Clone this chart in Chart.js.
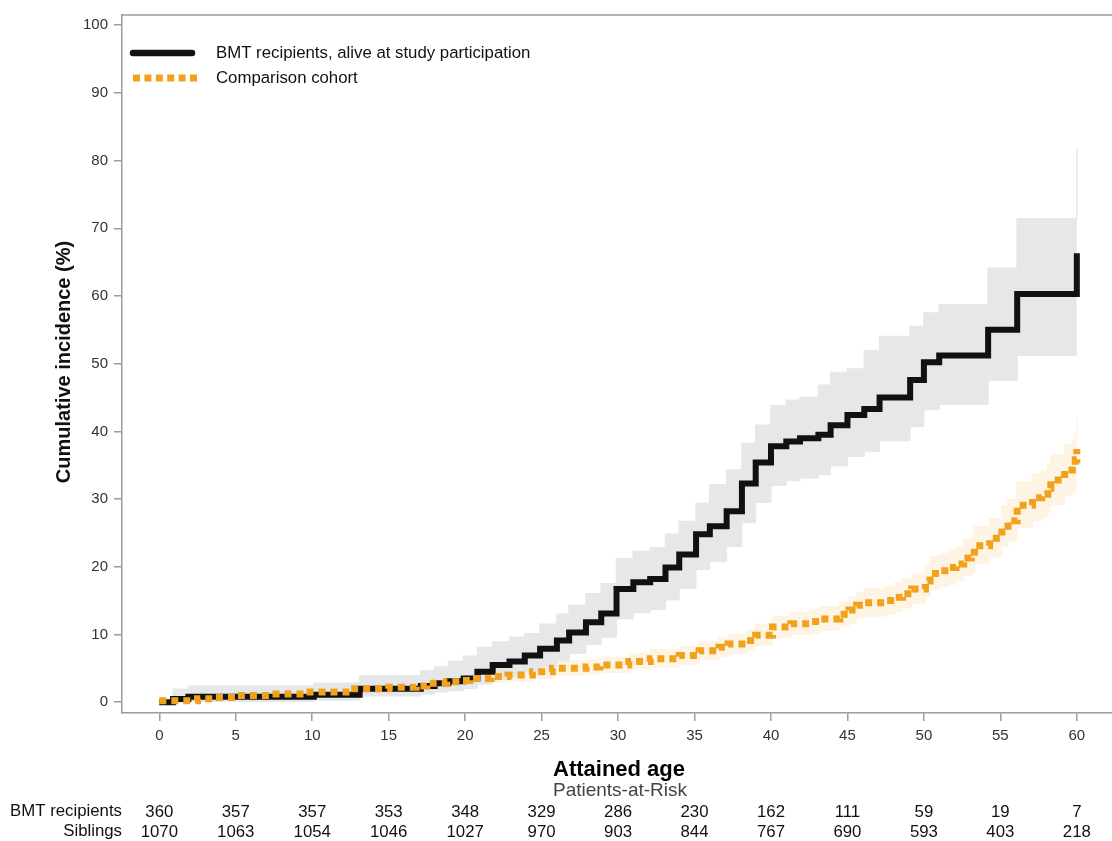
<!DOCTYPE html>
<html>
<head>
<meta charset="utf-8">
<script src="https://cdn.jsdelivr.net/npm/chart.js@4.4.1/dist/chart.umd.min.js"></script>
<style>
  html, body { margin: 0; padding: 0; background: #fff; }
  #wrap { width: 1112px; height: 841px; position: relative; }
</style>
</head>
<body>
<div id="wrap"><canvas id="c" width="1112" height="841"></canvas></div>
<script>
// BMT recipients, alive at study participation: cumulative incidence (%) by attained age
const bmtAge  = [0, 0.9, 1.9, 10.1, 13.1, 17.1, 18, 18.9, 19.9, 20.8, 21.8, 22.9, 23.9, 24.9, 26, 26.8, 27.9, 28.9, 29.9, 31, 32.1, 33.1, 34, 35.1, 36, 37.1, 38.1, 39, 40, 41, 41.9, 43.1, 43.9, 45, 46.1, 47.1, 49.1, 50, 51, 54.2, 56.1, 60];
const bmtInc  = [0, 0.45, 0.8, 1.1, 2.0, 2.4, 2.8, 3.1, 3.5, 4.5, 5.5, 6.0, 6.9, 7.9, 9.1, 10.3, 11.8, 13.1, 16.7, 17.7, 18.2, 19.9, 21.8, 24.8, 26.0, 28.2, 32.3, 35.4, 37.8, 38.5, 39.0, 39.5, 40.9, 42.4, 43.3, 45.0, 47.6, 50.2, 51.2, 55.0, 60.3, 66.3];
const bmtLow  = [0, 0, 0.1, 0.3, 0.9, 1.2, 1.5, 1.7, 2.0, 2.7, 3.4, 3.8, 4.5, 5.2, 6.1, 7.2, 8.5, 9.6, 12.3, 13.2, 13.7, 15.1, 16.8, 19.6, 20.8, 23.0, 26.5, 29.5, 32.0, 32.7, 33.1, 33.6, 34.9, 36.3, 37.0, 38.6, 40.7, 43.2, 44.0, 47.5, 51.2, 51.2];
const bmtHigh = [0, 1.9, 2.4, 2.8, 3.9, 4.6, 5.2, 6.0, 6.8, 8.1, 8.9, 9.6, 10.1, 11.5, 13.0, 14.3, 16.0, 17.5, 21.2, 22.3, 22.8, 24.8, 26.7, 29.4, 32.1, 34.3, 38.2, 40.9, 43.8, 44.6, 45.0, 46.8, 48.7, 49.2, 51.9, 54.0, 55.5, 57.5, 58.7, 64.1, 71.4, 81.7];

// Comparison cohort (siblings)
const cmpAge  = [0, 2.5, 3.7, 5.1, 7.4, 9.5, 12.5, 15.0, 16.8, 17.5, 18.8, 19.7, 20.3, 21.7, 22.8, 24.4, 25.7, 27.9, 28.8, 30.7, 32.1, 34.0, 35.3, 36.6, 37.2, 38.4, 39.0, 40.1, 41.3, 42.6, 43.2, 44.5, 45.1, 45.6, 46.1, 47.5, 48.1, 48.6, 49.2, 50.1, 50.4, 51.0, 51.6, 52.1, 52.6, 53.1, 53.3, 54.3, 55.1, 55.5, 56.1, 57.1, 57.7, 58.1, 58.3, 59.2, 59.7, 59.9, 60.0];
const cmpInc  = [0.2, 0.5, 0.7, 1.0, 1.2, 1.5, 2.0, 2.2, 2.4, 2.8, 3.0, 3.2, 3.5, 3.8, 4.0, 4.5, 5.0, 5.2, 5.5, 6.0, 6.4, 6.9, 7.6, 8.1, 8.6, 9.1, 9.9, 11.1, 11.6, 11.9, 12.3, 13.0, 13.6, 14.3, 14.7, 15.0, 15.5, 16.0, 16.7, 17.9, 19.0, 19.4, 19.9, 20.4, 21.3, 21.6, 23.1, 24.2, 26.0, 26.8, 29.1, 30.2, 30.7, 31.6, 32.8, 34.3, 34.8, 35.8, 37.4];
const cmpLow  = [0, 0.1, 0.2, 0.4, 0.6, 0.8, 1.2, 1.4, 1.6, 1.9, 2.1, 2.3, 2.6, 2.9, 3.1, 3.5, 4.0, 4.2, 4.4, 4.9, 5.2, 5.6, 6.3, 6.7, 7.2, 7.6, 8.4, 9.5, 10.0, 10.2, 10.6, 11.2, 11.7, 12.4, 12.7, 13.0, 13.4, 13.9, 14.5, 15.6, 16.6, 17.0, 17.4, 17.9, 18.7, 19.0, 20.4, 21.4, 23.0, 23.8, 25.8, 26.8, 27.3, 28.1, 29.2, 30.6, 31.1, 32.0, 33.0];
const cmpHigh = [0.5, 0.9, 1.2, 1.6, 1.8, 2.2, 2.8, 3.0, 3.2, 3.7, 3.9, 4.1, 4.4, 4.8, 5.0, 5.5, 6.1, 6.3, 6.6, 7.2, 7.7, 8.2, 8.9, 9.5, 10.0, 10.6, 11.5, 12.7, 13.3, 13.6, 14.1, 14.8, 15.5, 16.2, 16.7, 17.1, 17.6, 18.2, 19.0, 20.3, 21.5, 21.9, 22.5, 23.0, 24.0, 24.3, 25.9, 27.1, 29.0, 29.9, 32.5, 33.7, 34.2, 35.2, 36.5, 38.0, 38.6, 39.6, 42.0];

// Patients-at-risk table
const riskAges = [0, 5, 10, 15, 20, 25, 30, 35, 40, 45, 50, 55, 60];
const riskBmt  = [360, 357, 357, 353, 348, 329, 286, 230, 162, 111, 59, 19, 7];
const riskSib  = [1070, 1063, 1054, 1046, 1027, 970, 903, 844, 767, 690, 593, 403, 218];

const FONT = '"Liberation Sans", Arial, Helvetica, sans-serif';
const BLACK = '#111111';
const ORANGE = '#F2A11C';
const GRAY_BAND = '#E6E7E8';
const CREAM_BAND = '#FDF4E3';
const AXIS = '#9C9C9C';

const pts = (xs, ys) => xs.map((v, i) => ({ x: v, y: ys[i] }));

const decor = {
  id: 'decor',
  afterDraw(chart) {
    const { ctx, chartArea: a, scales: { x } } = chart;
    ctx.save();

    // frame: top edge of the plot box
    ctx.strokeStyle = AXIS;
    ctx.lineWidth = 1.5;
    ctx.beginPath();
    ctx.moveTo(a.left, a.top);
    ctx.lineTo(a.right, a.top);
    ctx.stroke();

    // legend
    ctx.strokeStyle = BLACK;
    ctx.lineWidth = 6.5;
    ctx.lineCap = 'round';
    ctx.beginPath();
    ctx.moveTo(133, 53);
    ctx.lineTo(192, 53);
    ctx.stroke();
    ctx.fillStyle = ORANGE;
    for (let i = 0; i < 6; i++) ctx.fillRect(133 + i * 11.4, 74.5, 7, 7);

    ctx.fillStyle = '#111';
    ctx.font = '16.8px ' + FONT;
    ctx.textAlign = 'left';
    ctx.textBaseline = 'middle';
    ctx.fillText('BMT recipients, alive at study participation', 216, 53);
    ctx.fillText('Comparison cohort', 216, 78);

    // y axis title
    ctx.save();
    ctx.translate(64, 362);
    ctx.rotate(-Math.PI / 2);
    ctx.font = 'bold 20px ' + FONT;
    ctx.textAlign = 'center';
    ctx.fillStyle = '#111';
    ctx.fillText('Cumulative incidence (%)', 0, 0);
    ctx.restore();

    // x axis title
    ctx.textAlign = 'center';
    ctx.font = 'bold 22px ' + FONT;
    ctx.fillStyle = '#000';
    ctx.fillText('Attained age', 619, 770);

    // patients at risk
    ctx.font = '19px ' + FONT;
    ctx.fillStyle = '#444';
    ctx.fillText('Patients-at-Risk', 620, 791);

    ctx.fillStyle = '#111';
    ctx.font = '16.8px ' + FONT;
    ctx.textAlign = 'right';
    ctx.fillText('BMT recipients', 122, 811);
    ctx.fillText('Siblings', 122, 831);

    ctx.textAlign = 'center';
    ctx.font = '16.8px ' + FONT;
    riskAges.forEach((age, i) => {
      const px = x.getPixelForValue(age);
      ctx.fillText(String(riskBmt[i]), px, 812);
      ctx.fillText(String(riskSib[i]), px, 832);
    });
    ctx.restore();
  }
};

new Chart(document.getElementById('c'), {
  type: 'line',
  data: {
    datasets: [
      { // 0: comparison cohort curve
        label: 'Comparison cohort',
        data: pts(cmpAge, cmpInc),
        stepped: 'before',
        borderColor: ORANGE,
        borderWidth: 7,
        borderDash: [7, 5],
        borderCapStyle: 'butt',
        borderJoinStyle: 'miter',
        pointRadius: 0,
        fill: false,
        order: 0
      },
      { // 1: BMT recipients curve
        label: 'BMT recipients, alive at study participation',
        data: pts(bmtAge, bmtInc),
        stepped: 'before',
        borderColor: BLACK,
        borderWidth: 6,
        borderCapStyle: 'butt',
        borderJoinStyle: 'miter',
        pointRadius: 0,
        fill: false,
        order: 1
      },
      { // 2: BMT upper confidence limit
        data: pts(bmtAge, bmtHigh),
        stepped: 'before',
        borderColor: GRAY_BAND,
        borderWidth: 1.5,
        backgroundColor: GRAY_BAND,
        pointRadius: 0,
        fill: 3,
        order: 2
      },
      { // 3: BMT lower confidence limit
        data: pts(bmtAge, bmtLow),
        stepped: 'before',
        borderColor: GRAY_BAND,
        borderWidth: 1,
        pointRadius: 0,
        fill: false,
        order: 3
      },
      { // 4: comparison upper confidence limit
        data: pts(cmpAge, cmpHigh),
        stepped: 'before',
        borderColor: CREAM_BAND,
        borderWidth: 1.5,
        backgroundColor: CREAM_BAND,
        pointRadius: 0,
        fill: 5,
        order: 4
      },
      { // 5: comparison lower confidence limit
        data: pts(cmpAge, cmpLow),
        stepped: 'before',
        borderColor: CREAM_BAND,
        borderWidth: 1,
        pointRadius: 0,
        fill: false,
        order: 5
      }
    ]
  },
  options: {
    responsive: false,
    animation: false,
    layout: { padding: { top: 10, right: 0, left: 0, bottom: 0 } },
    plugins: {
      legend: { display: false },
      tooltip: { enabled: false }
    },
    scales: {
      x: {
        type: 'linear',
        min: -2.44,
        max: 62.3,
        afterFit(s) { s.height = 128; },
        ticks: {
          stepSize: 5,
          includeBounds: false,
          autoSkip: false,
          maxRotation: 0,
          padding: 6,
          color: '#333',
          font: { family: FONT, size: 15 }
        },
        grid: { drawOnChartArea: false, drawTicks: true, tickLength: 8, color: AXIS, lineWidth: 1.5 },
        border: { display: true, color: AXIS, width: 1.5 }
      },
      y: {
        type: 'linear',
        min: -1.6,
        max: 101.5,
        afterFit(s) { s.width = 122; },
        ticks: {
          stepSize: 10,
          includeBounds: false,
          padding: 6,
          color: '#333',
          font: { family: FONT, size: 15 }
        },
        grid: { drawOnChartArea: false, drawTicks: true, tickLength: 8, color: AXIS, lineWidth: 1.5 },
        border: { display: true, color: AXIS, width: 1.5 }
      }
    }
  },
  plugins: [decor]
});
</script>
</body>
</html>
